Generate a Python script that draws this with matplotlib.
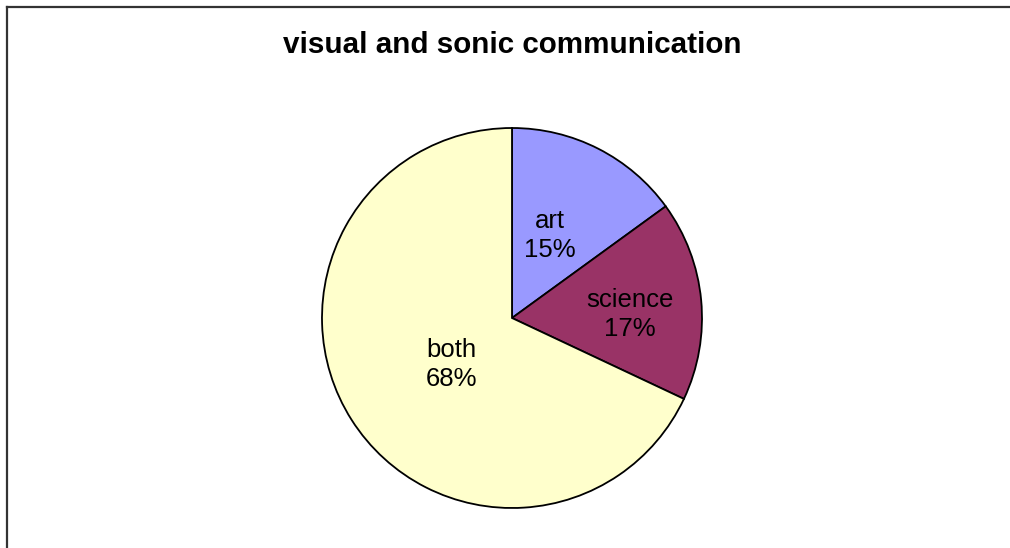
import numpy as np
import matplotlib.pyplot as plt
from matplotlib.lines import Line2D

plt.rcParams['font.family'] = ['Liberation Sans', 'DejaVu Sans']

labels = ['art', 'science', 'both']
values = [15, 17, 68]
colors = ['#9999FF', '#993366', '#FFFFCC']
# label placement: fraction of radius, and angle nudge (deg) from wedge middle
label_r = [0.48, 0.62, 0.40]
label_nudge = [2.4, -3.7, 5.1]

W, H = 1010, 548
fig = plt.figure(figsize=(W / 100, H / 100), dpi=100)

# outer chart frame (only top and left edges fall inside the picture)
top = 1 - 6.5 / H
left = 7 / W
fig.add_artist(Line2D([left, left], [-0.01, top], transform=fig.transFigure,
                      color='#333333', lw=1.6))
fig.add_artist(Line2D([left, 1.01], [top, top], transform=fig.transFigure,
                      color='#333333', lw=1.6))

cx, cy, r = 512, 318, 190
ax = fig.add_axes([(cx - r) / W, (H - cy - r) / H, 2 * r / W, 2 * r / H])
wedges, _ = ax.pie(values, colors=colors, startangle=90, counterclock=False,
                   wedgeprops=dict(edgecolor='black', linewidth=1.3))
ax.set_xlim(-1, 1)
ax.set_ylim(-1, 1)
ax.axis('off')

total = sum(values)
for w, lab, v, lr, nd in zip(wedges, labels, values, label_r, label_nudge):
    ang = np.deg2rad((w.theta1 + w.theta2) / 2 + nd)
    ax.text(lr * np.cos(ang), lr * np.sin(ang), f'{lab}\n{round(100 * v / total)}%',
            ha='center', va='center', fontsize=18.5, linespacing=1.27)

fig.text(512 / W, 1 - 53 / H, 'visual and sonic communication',
         ha='center', va='baseline', fontsize=21.3, fontweight='bold')

fig.savefig('out.png', dpi=100)
